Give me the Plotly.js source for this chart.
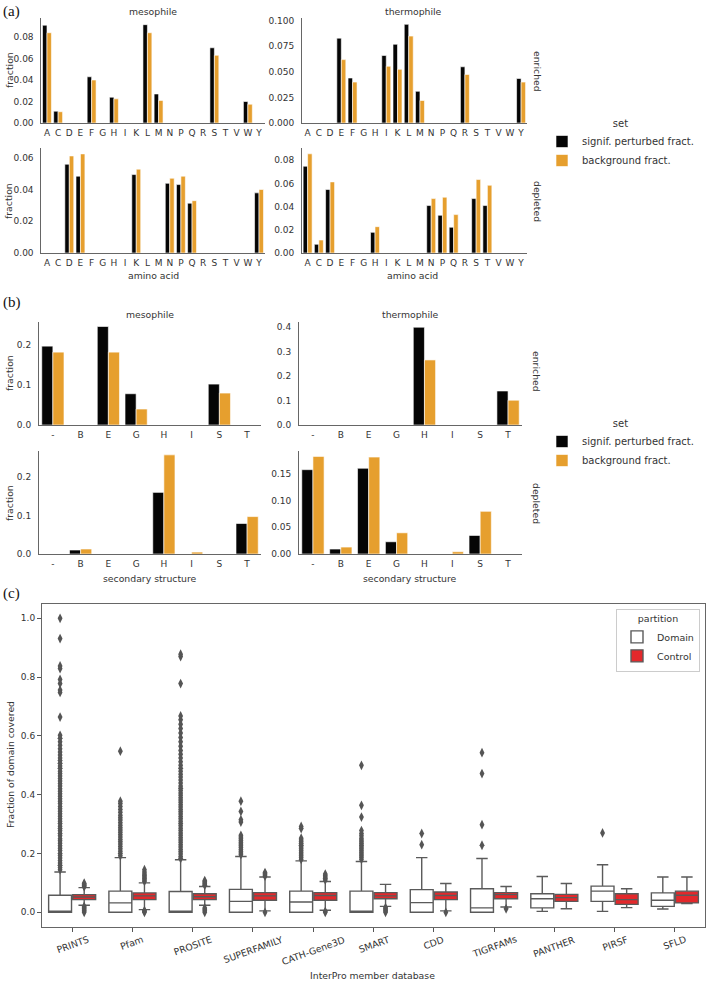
<!DOCTYPE html>
<html><head><meta charset="utf-8">
<script src="https://cdn.plot.ly/plotly-3.0.1.min.js"></script>
<style>html,body{margin:0;padding:0;background:#fff}#chart{width:709px;height:982px}</style>
</head><body><div id="chart"></div>
<script>
// ---------- panel (a): amino acids ----------
const aminoAcids = ['A','C','D','E','F','G','H','I','K','L','M','N','P','Q','R','S','T','V','W','Y'];
const mesoEnrSig   = [0.091,0.011,null,null,0.043,null,0.024,null,null,0.0915,0.027,null,null,null,null,0.070,null,null,0.020,null];
const mesoEnrBg    = [0.084,0.0105,null,null,0.040,null,0.0225,null,null,0.084,0.021,null,null,null,null,0.063,null,null,0.0175,null];
const thermoEnrSig = [null,null,null,0.083,0.044,null,null,0.066,0.077,0.0965,0.031,null,null,null,0.055,null,null,null,null,0.0435];
const thermoEnrBg  = [null,null,null,0.062,0.040,null,null,0.0555,0.0525,0.085,0.022,null,null,null,0.0475,null,null,null,null,0.040];
const mesoDepSig   = [null,null,0.0558,0.0483,null,null,null,null,0.0493,null,null,0.0438,0.043,0.0313,null,null,null,null,null,0.0378];
const mesoDepBg    = [null,null,0.061,0.0623,null,null,null,null,0.0527,null,null,0.047,0.0483,0.0329,null,null,null,null,null,0.0399];
const thermoDepSig = [0.0748,0.0075,0.0547,null,null,null,0.0178,null,null,null,null,0.0409,0.0325,0.0222,null,0.0469,0.0409,null,null,null];
const thermoDepBg  = [0.0855,0.0112,0.0613,null,null,null,0.0227,null,null,null,null,0.0469,0.0481,0.0331,null,0.0633,0.0584,null,null,null];

// ---------- panel (b): secondary structure ----------
const ssCats = ['-','B','E','G','H','I','S','T'];
const mesoEnrSigSS   = [0.1975,null,0.2467,0.0783,null,null,0.1025,null];
const mesoEnrBgSS    = [0.1825,null,0.1825,0.040,null,null,0.080,null];
const thermoEnrSigSS = [null,null,null,null,0.3987,null,null,0.1387];
const thermoEnrBgSS  = [null,null,null,null,0.2653,null,null,0.101];
const mesoDepSigSS   = [null,0.0103,null,null,0.1597,null,null,0.079];
const mesoDepBgSS    = [null,0.0129,null,null,0.257,0.005,null,0.097];
const thermoDepSigSS = [0.158,0.0093,0.1606,0.0229,null,null,0.0347,null];
const thermoDepBgSS  = [0.1829,0.013,0.1816,0.0397,null,0.0043,0.080,null];

// ---------- panel (c): box plot ----------
const dbs = ['PRINTS','Pfam','PROSITE','SUPERFAMILY','CATH-Gene3D','SMART','CDD','TIGRFAMs','PANTHER','PIRSF','SFLD'];
const domQ1  = [0,0,0,0,0,0,0,0,0.015,0.037,0.020];
const domMed = [0,0.032,0,0.037,0.035,0,0.033,0.015,0.046,0.072,0.041];
const domQ3  = [0.058,0.072,0.071,0.078,0.072,0.072,0.077,0.080,0.063,0.089,0.066];
const domLo  = [0,0,0,0,0,0,0,0,0.003,0.003,0.011];
const domHi  = [0.137,0.186,0.179,0.190,0.175,0.173,0.186,0.183,0.122,0.162,0.120];
const ctlQ1  = [0.043,0.043,0.043,0.041,0.041,0.046,0.043,0.046,0.037,0.027,0.032];
const ctlMed = [0.052,0.056,0.053,0.056,0.057,0.056,0.057,0.060,0.050,0.043,0.058];
const ctlQ3  = [0.060,0.066,0.063,0.067,0.067,0.067,0.069,0.067,0.061,0.063,0.072];
const ctlLo  = [0.024,0.009,0.024,0.005,0.007,0.020,0.005,0.018,0.012,0.016,0.030];
const ctlHi  = [0.084,0.100,0.088,0.120,0.105,0.095,0.098,0.088,0.098,0.080,0.120];
const domOut = [
  [0.145,0.152,0.16,0.168,0.176,0.185,0.193,0.2,0.21,0.218,0.226,0.235,0.243,0.25,0.26,0.268,0.277,0.285,0.293,0.302,0.31,0.318,0.327,0.335,0.344,0.352,0.36,0.37,0.378,0.386,0.395,0.403,0.412,0.42,0.43,0.438,0.447,0.455,0.464,0.472,0.48,0.49,0.498,0.507,0.516,0.525,0.535,0.545,0.556,0.568,0.58,0.592,0.602,0.664,0.748,0.756,0.778,0.792,0.829,0.838,0.931,1.0],
  [0.192,0.2,0.208,0.216,0.224,0.232,0.24,0.248,0.256,0.264,0.272,0.28,0.288,0.296,0.305,0.314,0.322,0.33,0.34,0.35,0.36,0.37,0.378,0.548],
  [0.183,0.19,0.198,0.206,0.214,0.222,0.23,0.238,0.246,0.254,0.262,0.27,0.278,0.286,0.294,0.302,0.31,0.318,0.326,0.334,0.342,0.35,0.358,0.366,0.374,0.382,0.39,0.398,0.406,0.414,0.422,0.43,0.44,0.45,0.46,0.47,0.48,0.49,0.5,0.512,0.525,0.538,0.55,0.565,0.58,0.595,0.61,0.625,0.64,0.655,0.668,0.778,0.87,0.878],
  [0.196,0.202,0.208,0.214,0.22,0.226,0.232,0.238,0.244,0.25,0.256,0.262,0.307,0.315,0.343,0.378],
  [0.18,0.186,0.192,0.198,0.204,0.21,0.216,0.222,0.228,0.234,0.24,0.246,0.252,0.285,0.292],
  [0.18,0.186,0.192,0.198,0.204,0.21,0.216,0.222,0.228,0.234,0.24,0.246,0.252,0.26,0.268,0.278,0.324,0.364,0.5],
  [0.23,0.268],
  [0.228,0.298,0.472,0.543],
  [],
  [0.27],
  []
];
const ctlOut = [
  [0.087,0.09,0.093,0.096,0.099,0.0,0.004,0.008,0.012,0.016,0.02],
  [0.105,0.11,0.115,0.12,0.125,0.13,0.137,0.145,0.0,0.003,0.006],
  [0.092,0.096,0.1,0.104,0.108,0.0,0.005,0.01,0.015],
  [0.123,0.127,0.131,0.135,0.0],
  [0.11,0.115,0.12,0.125,0.13,0.0,0.003],
  [0.0,0.004,0.008,0.012,0.016],
  [0.0],
  [0.012],
  [],
  [],
  []
];

// ---------- styling ----------
const W = 709, H = 982;
const fam = 'DejaVu Sans, sans-serif';
const txt = '#333';
const axisCol = '#666';
const sigCol = '#050505', bgCol = '#e69f2e';
const fx = p => p / W, fy = p => 1 - p / H;
const tickF = {family:fam, size:9, color:txt};
const labF = {family:fam, size:9.3, color:txt};

const data = [];
function barPair(cats, sig, bg, xa, ya, legend) {
  const common = {type:'bar', xaxis:xa, yaxis:ya, x:cats, hoverinfo:'skip'};
  data.push(Object.assign({}, common, {y:sig, name:'signif. perturbed fract.', marker:{color:sigCol, line:{color:'#fff', width:0.6}},
    showlegend:!!legend, legend:legend || 'legend'}));
  data.push(Object.assign({}, common, {y:bg, name:'background fract.', marker:{color:bgCol, line:{color:'#fff', width:0.6}},
    showlegend:!!legend, legend:legend || 'legend'}));
}
barPair(aminoAcids, mesoEnrSig, mesoEnrBg, 'x', 'y', 'legend');
barPair(aminoAcids, thermoEnrSig, thermoEnrBg, 'x2', 'y2');
barPair(aminoAcids, mesoDepSig, mesoDepBg, 'x3', 'y3');
barPair(aminoAcids, thermoDepSig, thermoDepBg, 'x4', 'y4');
barPair(ssCats, mesoEnrSigSS, mesoEnrBgSS, 'x5', 'y5', 'legend2');
barPair(ssCats, thermoEnrSigSS, thermoEnrBgSS, 'x6', 'y6');
barPair(ssCats, mesoDepSigSS, mesoDepBgSS, 'x7', 'y7');
barPair(ssCats, thermoDepSigSS, thermoDepBgSS, 'x8', 'y8');

// box plots
const boxLine = '#5a5a5a';
data.push({type:'box', name:'Domain', xaxis:'x9', yaxis:'y9', x:dbs.map((d,i)=>i-0.2),
  q1:domQ1, median:domMed, q3:domQ3, lowerfence:domLo, upperfence:domHi, width:0.38, whiskerwidth:0.5,
  boxpoints:false, fillcolor:'#ffffff', line:{color:boxLine, width:1.4}, legend:'legend3', hoverinfo:'skip'});
data.push({type:'box', name:'Control', xaxis:'x9', yaxis:'y9', x:dbs.map((d,i)=>i+0.2),
  q1:ctlQ1, median:ctlMed, q3:ctlQ3, lowerfence:ctlLo, upperfence:ctlHi, width:0.38, whiskerwidth:0.5,
  boxpoints:false, fillcolor:'#e3282b', line:{color:boxLine, width:1.4}, legend:'legend3', hoverinfo:'skip'});
const outX = [], outY = [];
domOut.forEach((arr,i)=>arr.forEach(v=>{outX.push(i-0.2); outY.push(v);}));
ctlOut.forEach((arr,i)=>arr.forEach(v=>{outX.push(i+0.2); outY.push(v);}));
data.push({type:'scatter', mode:'markers', xaxis:'x9', yaxis:'y9', x:outX, y:outY, showlegend:false, hoverinfo:'skip',
  marker:{symbol:'diamond-tall', size:7, color:'#555', line:{width:0}}});

function barX(d0, d1, anchor, cats) {
  return {domain:[fx(d0), fx(d1)], anchor, type:'category', categoryorder:'array', categoryarray:cats,
    tickmode:'array', tickvals:cats, ticktext:cats,
    range:[-0.5, cats.length - 0.5], showline:true, linecolor:axisCol, linewidth:1, ticks:'outside', ticklen:1,
    tickcolor:'rgba(0,0,0,0)', showgrid:false, zeroline:false, tickfont:tickF, fixedrange:true};
}
function barY(t, b, anchor, top, dtick, fmt) {
  return {domain:[fy(b), fy(t)], anchor, range:[0, top], dtick, tick0:0, tickformat:fmt, showline:true, linecolor:axisCol,
    linewidth:1, ticks:'outside', ticklen:5, tickcolor:'rgba(0,0,0,0)', showgrid:false, zeroline:false,
    tickfont:tickF, fixedrange:true};
}

function ann(text, px, py, opts) {
  return Object.assign({text, xref:'paper', yref:'paper', x:fx(px), y:fy(py), showarrow:false,
    xanchor:'center', yanchor:'middle', font:labF}, opts || {});
}
const serif = {family:'Liberation Serif, Times New Roman, serif', size:15, color:'#111'};
const annotations = [
  ann('(a)', 1, 12, {xanchor:'left', font:serif}),
  ann('mesophile', 153, 12), ann('thermophile', 413, 12),
  ann('fraction', 9, 70, {textangle:-90}), ann('fraction', 9, 201, {textangle:-90}),
  ann('amino acid', 153, 275), ann('amino acid', 412, 275),
  ann('enriched', 537, 71, {textangle:90}), ann('depleted', 537, 201, {textangle:90}),
  ann('(b)', 1, 302, {xanchor:'left', font:serif}),
  ann('mesophile', 150, 314), ann('thermophile', 410, 314),
  ann('fraction', 9, 373, {textangle:-90}), ann('fraction', 9, 503, {textangle:-90}),
  ann('secondary structure', 150, 578), ann('secondary structure', 410, 578),
  ann('enriched', 537, 371, {textangle:90}), ann('depleted', 537, 503, {textangle:90}),
  ann('(c)', 1, 593, {xanchor:'left', font:serif}),
  ann('Fraction of domain covered', 10, 765, {textangle:-90}),
  ann('InterPro member database', 373, 975)
];
dbs.forEach((d,i)=>annotations.push({text:d, xref:'x9', yref:'paper', x:i, y:fy(931), showarrow:false,
  xanchor:'center', yanchor:'top', textangle:-20, font:labF}));

const legFont = {family:fam, size:10, color:txt};
const layout = {
  width:W, height:H, margin:{l:0, r:0, t:0, b:0}, paper_bgcolor:'#fff', plot_bgcolor:'#fff',
  barmode:'group', bargap:0.2, bargroupgap:0, showlegend:true,
  xaxis: barX(41.4, 264.6, 'y', aminoAcids),  yaxis: barY(18, 123, 'x', 0.0977, 0.02, '.2f'),
  xaxis2: barX(302, 526.7, 'y2', aminoAcids), yaxis2: barY(18, 123, 'x2', 0.1027, 0.025, '.3f'),
  xaxis3: barX(41.4, 264.6, 'y3', aminoAcids), yaxis3: barY(148, 253, 'x3', 0.066, 0.02, '.2f'),
  xaxis4: barX(302, 526.7, 'y4', aminoAcids), yaxis4: barY(148, 253, 'x4', 0.0905, 0.02, '.2f'),
  xaxis5: barX(39, 261, 'y5', ssCats), yaxis5: barY(322, 425, 'x5', 0.258, 0.1, '.1f'),
  xaxis6: barX(299, 522, 'y6', ssCats), yaxis6: barY(322, 425, 'x6', 0.42, 0.1, '.1f'),
  xaxis7: barX(39, 261, 'y7', ssCats), yaxis7: barY(451, 554, 'x7', 0.267, 0.1, '.1f'),
  xaxis8: barX(299, 522, 'y8', ssCats), yaxis8: barY(451, 554, 'x8', 0.193, 0.05, '.2f'),
  xaxis9: {domain:[fx(42), fx(705)], anchor:'y9', range:[-0.5, 10.5], tickvals:dbs.map((d,i)=>i), showticklabels:false,
    ticks:'outside', ticklen:4, tickcolor:'#555', showline:true, mirror:true, linecolor:'#666', linewidth:1,
    showgrid:false, zeroline:false, fixedrange:true},
  yaxis9: {domain:[fy(927), fy(604)], anchor:'x9', range:[-0.05, 1.0487], dtick:0.2, tick0:0, tickformat:'.1f',
    ticks:'outside', ticklen:4, tickcolor:'#555', showline:true, mirror:true, linecolor:'#666', linewidth:1,
    showgrid:false, zeroline:false, tickfont:tickF, fixedrange:true},
  legend: {x:fx(542), y:fy(114), xanchor:'left', yanchor:'top', font:legFont, bgcolor:'rgba(0,0,0,0)',
    title:{text:'set', side:'top center', font:legFont}, traceorder:'normal', itemwidth:30},
  legend2: {x:fx(542), y:fy(414), xanchor:'left', yanchor:'top', font:legFont, bgcolor:'rgba(0,0,0,0)',
    title:{text:'set', side:'top center', font:legFont}, traceorder:'normal', itemwidth:30},
  legend3: {x:fx(700), y:fy(609), xanchor:'right', yanchor:'top', font:{family:fam, size:9.5, color:txt}, bgcolor:'#fff',
    bordercolor:'#ccc', borderwidth:1, title:{text:'partition', side:'top center', font:{family:fam, size:9.5, color:txt}},
    traceorder:'normal', itemwidth:30},
  annotations
};
Plotly.newPlot('chart', data, layout, {staticPlot:true, displayModeBar:false});
</script></body></html>
